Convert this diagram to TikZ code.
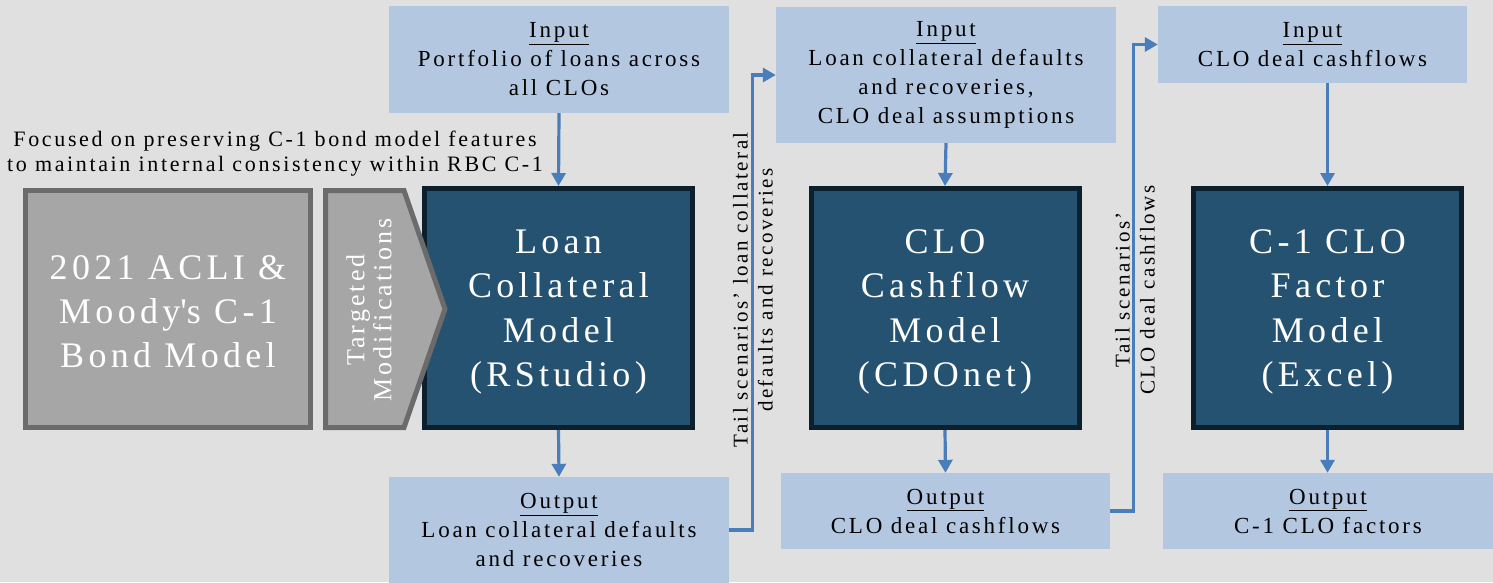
\documentclass[tikz,border=0pt]{standalone}
\usepackage{fontspec}
\setmainfont{Liberation Serif}[LetterSpace=12]
\usetikzlibrary{arrows.meta}
\definecolor{bg}{HTML}{E0E0E0}
\definecolor{inbox}{HTML}{B4C7E0}
\definecolor{model}{HTML}{255270}
\definecolor{modelb}{HTML}{0C1F2C}
\definecolor{grayf}{HTML}{A6A6A6}
\definecolor{grayb}{HTML}{6B6B6B}
\definecolor{arrowc}{HTML}{4A7EBB}
\newcommand{\topstrut}[1]{\rule{0pt}{#1}}
\tikzset{
  io/.style={fill=inbox, draw=none, align=center, font=\fontsize{23}{29}\selectfont, inner sep=0pt},
  modelbox/.style={fill=model, draw=modelb, line width=5pt, text=white, align=center,
    font=\fontsize{36}{44.5}\selectfont, minimum width=268pt, minimum height=239pt, inner sep=0pt},
  arr/.style={draw=arrowc, line width=3.2pt, -{Triangle[length=13pt,width=14pt]}},
  sidelabel/.style={rotate=90, align=center, font=\fontsize{21}{25}\selectfont, inner sep=0pt}
}
\begin{document}
\begin{tikzpicture}[x=1pt,y=-1pt]
\fill[bg] (0,0) rectangle (1493,582);
\useasboundingbox (0,0) rectangle (1493,582);

% input / output boxes
\node[io, minimum width=340pt, minimum height=107pt] (in1) at (559,59.5) {\underline{Input}\\Portfolio of loans across\\all CLOs};
\node[io, minimum width=340pt, minimum height=136pt] (in2) at (946,75) {\underline{Input}\\Loan collateral defaults\\and recoveries,\\CLO deal assumptions};
\node[io, minimum width=309pt, minimum height=77pt] (in3) at (1312.5,44.5) {\underline{Input}\\CLO deal cashflows};
\node[io, minimum width=340pt, minimum height=106pt] (out1) at (559,530) {\underline{Output}\\Loan collateral defaults\\and recoveries};
\node[io, minimum width=329pt, minimum height=76pt] (out2) at (945.5,511) {\underline{Output}\\CLO deal cashflows};
\node[io, minimum width=330pt, minimum height=76pt] (out3) at (1328,511) {\underline{Output}\\C-1 CLO factors};

% model boxes
\node[modelbox] (m1) at (558.5,308) {\topstrut{32pt}Loan\\Collateral\\Model\\(RStudio)};
\node[modelbox] (m2) at (945,308) {\topstrut{32pt}CLO\\Cashflow\\Model\\(CDOnet)};
\node[modelbox] (m3) at (1327.5,308) {\topstrut{32pt}C-1 CLO\\Factor\\Model\\(Excel)};

% left gray box
\node[fill=grayf, draw=grayb, line width=5pt, text=white, align=center,
  font=\fontsize{36}{44}\selectfont, minimum width=285pt, minimum height=237pt, inner sep=0pt]
  (bond) at (168,309) {\topstrut{30pt}2021 ACLI \&\\Moody\textquotesingle s C-1\\Bond Model};

% pentagon
\draw[fill=grayf, draw=grayb, line width=5pt, line join=miter]
  (325.5,190.5) -- (404,190.5) -- (445,309) -- (404,427.5) -- (325.5,427.5) -- cycle;
\node[sidelabel, text=white, font=\fontsize{26}{27}\selectfont] (tm) at (369,310) {Targeted\\Modifications};

% note
\node[align=center, font=\fontsize{22}{25}\selectfont, inner sep=0pt] (note) at (275,154)
  {Focused on preserving C-1 bond model features\\to maintain internal consistency within RBC C-1};

% arrows
\draw[arr] (in1.south) -- (m1.north);
\draw[arr] (m1.south) -- (out1.north);
\draw[arr] (in2.south) -- (m2.north);
\draw[arr] (m2.south) -- (out2.north);
\draw[arr] (m3.north |- in3.south) -- (m3.north);
\draw[arr] (m3.south) -- (m3.south |- out3.north);
\draw[arr] (out1.east) -- ++(23,0) |- (in2.west);
\draw[arr] (out2.east) -- ++(23,0) |- (in3.west);

% side labels
\node[sidelabel] (l1) at (753,290) {Tail scenarios’ loan collateral\\defaults and recoveries};
\node[sidelabel] (l2) at (1135,290) {Tail scenarios’\\CLO deal cashflows};
\end{tikzpicture}
\end{document}
